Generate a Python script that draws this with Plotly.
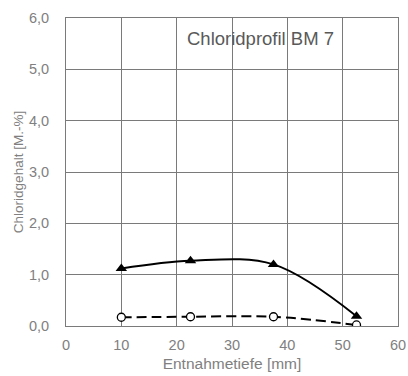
import plotly.graph_objects as go

depth = [10, 22.5, 37.5, 52.5]
chlorid_a = [1.12, 1.27, 1.20, 0.19]
chlorid_b = [0.17, 0.18, 0.18, 0.02]
title_text = "Chloridprofil BM 7"
x_title = "Entnahmetiefe [mm]"
y_title = "Chloridgehalt [M.-%]"

fig = go.Figure()
fig.add_trace(go.Scatter(
    x=depth, y=chlorid_a, mode="lines+markers",
    line=dict(color="black", width=2, shape="spline", smoothing=1.0),
    marker=dict(symbol="triangle-up", size=10, color="black"),
    showlegend=False))
fig.add_trace(go.Scatter(
    x=depth, y=chlorid_b, mode="lines+markers",
    line=dict(color="black", width=2, dash="10px,5px", shape="spline", smoothing=1.0),
    marker=dict(symbol="circle", size=8, color="white", line=dict(color="black", width=1.3)),
    showlegend=False))

fig.add_annotation(x=0.585, y=0.975, xref="paper", yref="paper", text=title_text,
                   showarrow=False, xanchor="center", yanchor="top",
                   font=dict(size=18.5, color="#595959", family="Liberation Sans, Arial"))

axis_common = dict(showline=True, linecolor="#7a7a7a", linewidth=1, mirror=True,
                   showgrid=True, gridcolor="#7a7a7a", gridwidth=1, zeroline=False,
                   ticks="", tickfont=dict(size=14.5, color="#808080"), automargin=False)
fig.update_xaxes(range=[0, 60], dtick=10, tickformat="d", ticklabelstandoff=6,
                 title=dict(text=x_title, font=dict(size=15.5, color="#808080"), standoff=5),
                 **axis_common)
fig.update_yaxes(range=[0, 6], dtick=1, tickformat=".1f", ticklabelstandoff=13,
                 title=dict(text=y_title, font=dict(size=13.5, color="#808080"), standoff=2),
                 **axis_common)

fig.update_layout(width=408, height=376, margin=dict(l=66, r=10, t=18, b=50),
                  plot_bgcolor="white", paper_bgcolor="white", separators=",.",
                  font=dict(family="Liberation Sans, Arial", color="#808080"))
fig.write_html("out.html")
